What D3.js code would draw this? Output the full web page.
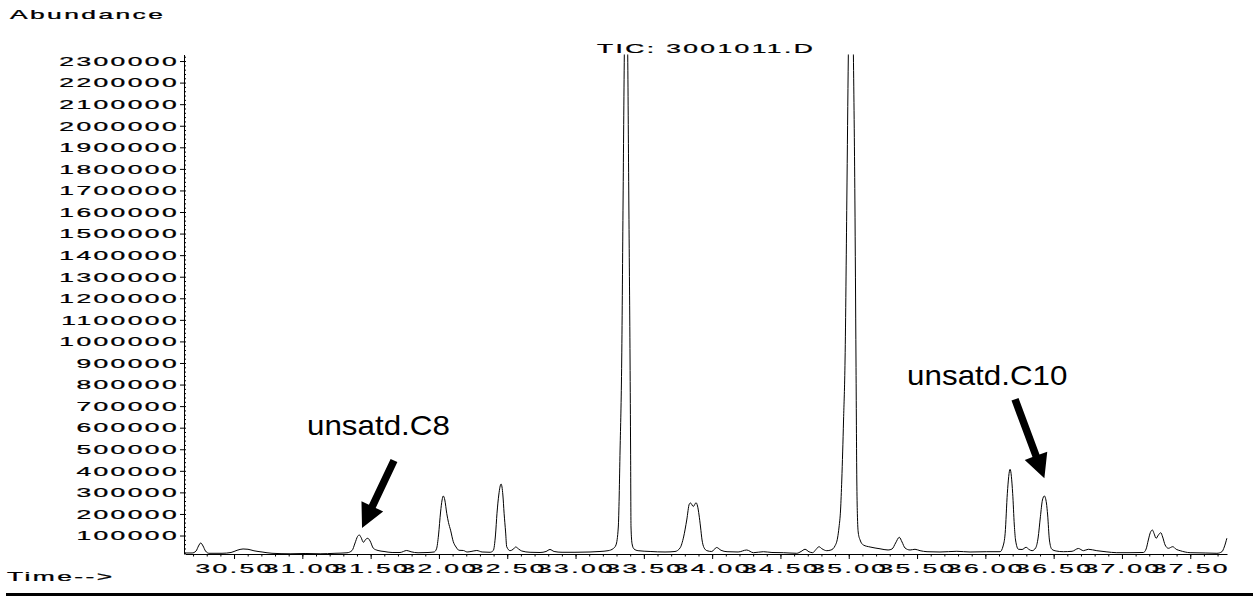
<!DOCTYPE html>
<html>
<head>
<meta charset="utf-8">
<script src="https://cdn.jsdelivr.net/npm/d3@7"></script>
<style>
  html, body { margin: 0; padding: 0; background: #fff; }
  svg { display: block; }
</style>
</head>
<body>
<svg id="chart" width="1253" height="596"></svg>
<script>
// ---- Total ion chromatogram, TIC: 3001011.D ----
// retention time (min)
const retentionTime = [
  30.134, 30.193, 30.222, 30.240, 30.256, 30.273, 30.291, 30.317, 30.412, 30.478,
  30.522, 30.566, 30.602, 30.646, 30.705, 30.778, 30.910, 31.020, 31.130, 31.239,
  31.327, 31.364, 31.386, 31.404, 31.417, 31.430, 31.447, 31.463, 31.479, 31.496,
  31.520, 31.554, 31.598, 31.657, 31.715, 31.764, 31.796, 31.847, 31.920, 31.964,
  31.982, 31.997, 32.012, 32.023, 32.032, 32.043, 32.057, 32.070, 32.085, 32.105,
  32.125, 32.147, 32.179, 32.206, 32.235, 32.277, 32.316, 32.374, 32.398, 32.414,
  32.425, 32.438, 32.455, 32.468, 32.477, 32.488, 32.496, 32.521, 32.543, 32.562,
  32.583, 32.606, 32.667, 32.740, 32.784, 32.813, 32.843, 32.901, 32.996, 33.106,
  33.179, 33.238, 33.277, 33.296, 33.313, 33.326, 33.338, 33.348, 33.357, 33.370,
  33.382, 33.390, 33.399, 33.403, 33.406, 33.414, 33.428, 33.458, 33.546, 33.655,
  33.728, 33.765, 33.791, 33.814, 33.833, 33.842, 33.862, 33.882, 33.893, 33.904,
  33.915, 33.926, 33.940, 33.962, 33.997, 34.033, 34.065, 34.109, 34.190, 34.253,
  34.302, 34.375, 34.438, 34.521, 34.619, 34.651, 34.680, 34.709, 34.736, 34.760,
  34.782, 34.804, 34.839, 34.870, 34.899, 34.918, 34.929, 34.940, 34.949, 34.962,
  34.973, 34.986, 34.997, 35.015, 35.034, 35.045, 35.053, 35.059, 35.063, 35.070,
  35.083, 35.107, 35.156, 35.229, 35.288, 35.317, 35.343, 35.370, 35.390, 35.412,
  35.449, 35.485, 35.522, 35.573, 35.668, 35.791, 35.888, 36.010, 36.108, 36.130,
  36.145, 36.161, 36.181, 36.200, 36.212, 36.221, 36.242, 36.269, 36.298, 36.320,
  36.342, 36.368, 36.386, 36.403, 36.418, 36.432, 36.447, 36.456, 36.469, 36.487,
  36.518, 36.571, 36.635, 36.681, 36.718, 36.754, 36.816, 36.884, 36.962, 37.059,
  37.157, 37.177, 37.193, 37.208, 37.223, 37.235, 37.250, 37.267, 37.284, 37.298,
  37.316, 37.340, 37.372, 37.397, 37.426, 37.499, 37.609, 37.695, 37.732, 37.749,
  37.768
];

// total ion abundance at each retention time
const abundance = [
  19000, 19000, 28300, 51500, 65400, 51500, 28300, 17600, 17600, 21300,
  31500, 37600, 36200, 29200, 23600, 17600, 15300, 16700, 15300, 17600,
  19900, 30600, 65400, 95500, 102500, 90900, 68600, 81600, 87200, 74600,
  40800, 30600, 26000, 21300, 21300, 30600, 24600, 19900, 21300, 23600,
  37600, 102500, 209100, 264700, 283300, 264700, 203100, 160000, 125000, 71400,
  46800, 31500, 30600, 23600, 26000, 30600, 23600, 22300, 30600, 102500,
  203100, 287900, 338900, 287900, 203100, 116400, 48200, 29700, 36200, 46800,
  37600, 28300, 22300, 21300, 26000, 35200, 26000, 22300, 22300, 23600,
  26000, 29700, 39900, 56100, 139500, 496500, 913800, 1655500, 2327700, 2900000,
  2327700, 1655500, 913800, 496500, 139500, 60700, 37600, 29700, 26000, 23600,
  26000, 42200, 93200, 172000, 246200, 250800, 234600, 252200, 236900, 195200,
  139500, 79300, 44500, 29700, 26000, 44500, 31500, 25000, 23600, 32900,
  20400, 25000, 21300, 20400, 17600, 26000, 36200, 24600, 20400, 35200,
  48200, 38500, 29700, 32900, 51500, 88500, 139500, 218400, 357400, 635600,
  913800, 1655500, 2327700, 3000000, 2327700, 1655500, 913800, 357400, 203100, 111700,
  79300, 56100, 46800, 38500, 32900, 37600, 65400, 91800, 70000, 42200,
  32900, 36200, 29700, 25000, 23600, 26900, 23600, 25000, 25000, 51500,
  110300, 295800, 407000, 295800, 148800, 79300, 36200, 35200, 45400, 35200,
  29700, 42200, 88500, 187300, 264700, 283300, 250800, 195200, 79300, 36200,
  28300, 25000, 26900, 39900, 29700, 36200, 29700, 24600, 20400, 20400,
  21300, 37600, 79300, 114000, 125600, 109400, 87200, 102500, 113100, 93200,
  56100, 40800, 48200, 36200, 29700, 20400, 19000, 17600, 25000, 46800,
  87200
];

// axis ticks and labels
const timeTicks = [30.5, 31.0, 31.5, 32.0, 32.5, 33.0, 33.5, 34.0, 34.5, 35.0, 35.5, 36.0, 36.5, 37.0, 37.5];
const timeTickLabels = ["30.50", "31.00", "31.50", "32.00", "32.50", "33.00", "33.50", "34.00",
                        "34.50", "35.00", "35.50", "36.00", "36.50", "37.00", "37.50"];
const abundanceTicks = [100000, 200000, 300000, 400000, 500000, 600000, 700000, 800000,
                        900000, 1000000, 1100000, 1200000, 1300000, 1400000, 1500000, 1600000,
                        1700000, 1800000, 1900000, 2000000, 2100000, 2200000, 2300000];
const abundanceTickLabels = ["100000", "200000", "300000", "400000", "500000", "600000", "700000",
                             "800000", "900000", "1000000", "1100000", "1200000", "1300000",
                             "1400000", "1500000", "1600000", "1700000", "1800000", "1900000",
                             "2000000", "2100000", "2200000", "2300000"];

// peak annotations: label anchor and arrow tail/tip in (time, abundance)
const annotationLabels = ["unsatd.C8", "unsatd.C10"];
const annotationLabelTime = [31.034, 35.427];
const annotationLabelAbundance = [566000, 797900];
const arrowTailTime = [31.671, 36.217];
const arrowTailAbundance = [447800, 731600];
const arrowTipTime = [31.437, 36.432];
const arrowTipAbundance = [134900, 365300];

const titleText = "TIC: 3001011.D";
const yAxisTitle = "Abundance";
const xAxisTitle = "Time-->";

// ---- layout ----
const width = 1253, height = 596;
const plot = { left: 185, right: 1227, top: 55, bottom: 554 };
const FONT = '"Liberation Sans", Arial, Helvetica, sans-serif';
const FS = 12;      // instrument-style font size
const SX = 2.2;     // horizontal stretch of the instrument font
const LS = 1.1;     // extra letter spacing

const svg = d3.select("#chart");

const x = d3.scaleLinear().domain([30.141, 37.769]).range([plot.left, plot.right]);
const y = d3.scaleLinear().domain([12000, 2328000]).range([plot.bottom + 0.5, plot.top]);

function instrumentText(sel) {
  sel.attr("font-family", FONT)
     .attr("font-size", FS)
     .attr("letter-spacing", LS)
     .attr("fill", "#000")
     .attr("stroke", "#000")
     .attr("stroke-width", 0.25);
}

// ---- x axis ----
const gx = svg.append("g").attr("transform", `translate(0,${plot.bottom})`);
gx.call(d3.axisBottom(x).tickValues(d3.range(30.2, 37.75, 0.1)).tickSize(2.5).tickSizeOuter(0).tickFormat(""));
gx.call(g => g.selectAll(".tick text").remove());
const gxMajor = svg.append("g").attr("transform", `translate(0,${plot.bottom})`);
gxMajor.call(d3.axisBottom(x).tickValues(timeTicks).tickSize(5).tickSizeOuter(0)
  .tickFormat((d, i) => timeTickLabels[i]));
gxMajor.select(".domain").remove();
gxMajor.selectAll(".tick text")
  .call(instrumentText)
  .attr("dy", null)
  .attr("y", 19)
  .attr("transform", `scale(${SX},1)`);

// ---- y axis ----
const gy = svg.append("g").attr("transform", `translate(${plot.left - 1},0)`);
gy.call(d3.axisLeft(y).tickValues(abundanceTicks).tickSize(4).tickSizeOuter(0)
  .tickFormat((d, i) => abundanceTickLabels[i]));
gy.select(".domain").attr("d", `M0.5,${plot.top}V${plot.bottom + 0.5}`);
gy.selectAll(".tick text")
  .call(instrumentText)
  .attr("dy", null)
  .attr("y", 4.3)
  .attr("x", -5 / SX)
  .attr("transform", `scale(${SX},1)`);
const gyMinor = svg.append("g").attr("transform", `translate(${plot.left - 1},0)`);
gyMinor.call(d3.axisRight(y).tickValues(d3.range(20000, 2328000, 20000)).tickSize(2).tickSizeOuter(0).tickFormat(""));
gyMinor.select(".domain").remove();
gyMinor.selectAll(".tick text").remove();
svg.selectAll(".tick line").attr("stroke", "#000");
svg.selectAll(".domain").attr("stroke", "#000");

// ---- trace ----
svg.append("defs").append("clipPath").attr("id", "plotClip")
  .append("rect")
  .attr("x", plot.left).attr("y", plot.top - 0.5)
  .attr("width", plot.right - plot.left + 2).attr("height", plot.bottom - plot.top + 0.5);

const points = retentionTime.map((t, i) => [t, abundance[i]]);
const line = d3.line()
  .x(d => x(d[0]))
  .y(d => y(d[1]))
  .curve(d3.curveMonotoneX);

svg.append("path")
  .datum(points)
  .attr("clip-path", "url(#plotClip)")
  .attr("fill", "none")
  .attr("stroke", "#000")
  .attr("stroke-width", 1)
  .attr("stroke-linejoin", "round")
  .attr("d", line);

// ---- titles ----
svg.append("text")
  .text(titleText)
  .call(instrumentText)
  .attr("text-anchor", "middle")
  .attr("transform", `translate(${(plot.left + plot.right) / 2},52.7) scale(${SX},1)`);

svg.append("text")
  .text(yAxisTitle)
  .call(instrumentText)
  .attr("transform", `translate(10,18.5) scale(${SX},1)`);

svg.append("text")
  .text(xAxisTitle)
  .call(instrumentText)
  .attr("transform", `translate(7,581) scale(${SX},1)`);

// bottom rule of the printout
svg.append("rect")
  .attr("x", 6).attr("y", 593)
  .attr("width", width - 6).attr("height", 3)
  .attr("fill", "#000");

// ---- annotations ----
function arrowPath(x0, y0, x1, y1, shaftW, headL, headW) {
  const dx = x1 - x0, dy = y1 - y0, len = Math.hypot(dx, dy);
  const ux = dx / len, uy = dy / len, px = -uy, py = ux;
  const bx = x1 - ux * headL, by = y1 - uy * headL;
  const pts = [
    [x0 + px * shaftW / 2, y0 + py * shaftW / 2],
    [bx + px * shaftW / 2, by + py * shaftW / 2],
    [bx + px * headW / 2, by + py * headW / 2],
    [x1, y1],
    [bx - px * headW / 2, by - py * headW / 2],
    [bx - px * shaftW / 2, by - py * shaftW / 2],
    [x0 - px * shaftW / 2, y0 - py * shaftW / 2]
  ];
  return d3.line()(pts) + "Z";
}

annotationLabels.forEach((label, i) => {
  svg.append("text")
    .text(label)
    .attr("font-family", FONT)
    .attr("font-size", 28)
    .attr("fill", "#000")
    .attr("transform", `translate(${x(annotationLabelTime[i])},${y(annotationLabelAbundance[i])}) scale(1.12,1)`);

  svg.append("path")
    .attr("d", arrowPath(
      x(arrowTailTime[i]), y(arrowTailAbundance[i]),
      x(arrowTipTime[i]), y(arrowTipAbundance[i]),
      7.5, 24, 24))
    .attr("fill", "#000");
});
</script>
</body>
</html>
